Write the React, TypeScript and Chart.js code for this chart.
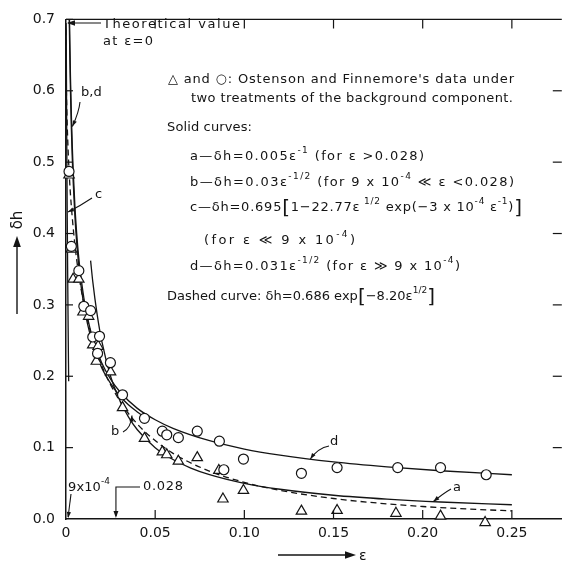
import React, { useEffect, useRef } from "react";
import { Chart, registerables } from "chart.js";

Chart.register(...registerables);

// ---- data ----
const circleEps = [0.0017, 0.003, 0.0072, 0.010, 0.0138, 0.015, 0.0188, 0.0177, 0.0249, 0.0317, 0.044, 0.054, 0.0565, 0.063, 0.0736, 0.086, 0.0885, 0.0995, 0.132, 0.152, 0.186, 0.210, 0.2356];
const circleDh = [0.487, 0.382, 0.348, 0.298, 0.292, 0.255, 0.256, 0.232, 0.219, 0.174, 0.141, 0.123, 0.118, 0.114, 0.123, 0.109, 0.069, 0.084, 0.064, 0.072, 0.072, 0.072, 0.062];

const triEps = [0.0017, 0.003, 0.004, 0.0072, 0.0095, 0.0127, 0.015, 0.018, 0.017, 0.025, 0.0317, 0.044, 0.054, 0.0565, 0.063, 0.0736, 0.0857, 0.088, 0.0995, 0.132, 0.152, 0.185, 0.210, 0.235];
const triDh = [0.482, 0.378, 0.336, 0.336, 0.290, 0.284, 0.244, 0.242, 0.221, 0.206, 0.156, 0.113, 0.094, 0.090, 0.081, 0.086, 0.068, 0.028, 0.040, 0.011, 0.012, 0.008, 0.004, -0.005];

// solid curve a
const curveAEps = [0.0138, 0.015, 0.0175, 0.02, 0.025, 0.03, 0.035, 0.04, 0.05, 0.06, 0.07, 0.08, 0.10, 0.12, 0.15, 0.18, 0.21, 0.25];
const curveADh = [0.362, 0.333, 0.286, 0.25, 0.2, 0.167, 0.143, 0.125, 0.1, 0.0833, 0.0714, 0.0625, 0.05, 0.0417, 0.0333, 0.0278, 0.0238, 0.02];

// solid curve b
const curveBEps = [0.00184, 0.002, 0.0025, 0.003, 0.0035, 0.004, 0.005, 0.006, 0.007, 0.008, 0.01, 0.012, 0.015, 0.02, 0.025, 0.03, 0.035, 0.04, 0.045];
const curveBDh = [0.699, 0.671, 0.600, 0.548, 0.507, 0.474, 0.424, 0.387, 0.359, 0.335, 0.300, 0.274, 0.245, 0.212, 0.190, 0.173, 0.160, 0.150, 0.141];

// solid curve c
const curveCEps = [0, 0.0001, 0.0002, 0.0003, 0.0005, 0.0007, 0.0009, 0.0012, 0.0015];
const curveCDh = [0.695, 0.687, 0.645, 0.594, 0.501, 0.422, 0.355, 0.268, 0.193];

// solid curve d
const curveDEps = [0.00196, 0.0022, 0.0025, 0.003, 0.0035, 0.004, 0.005, 0.006, 0.007, 0.008, 0.01, 0.012, 0.015, 0.02, 0.025, 0.03, 0.04, 0.05, 0.06, 0.08, 0.10, 0.12, 0.15, 0.18, 0.21, 0.25];
const curveDDh = [0.700, 0.661, 0.620, 0.566, 0.524, 0.490, 0.438, 0.400, 0.370, 0.347, 0.310, 0.283, 0.253, 0.219, 0.196, 0.179, 0.155, 0.139, 0.127, 0.110, 0.098, 0.0895, 0.080, 0.0731, 0.0676, 0.062];

// dashed curve
const dashedEps = [0, 0.0001, 0.0005, 0.001, 0.002, 0.003, 0.005, 0.0075, 0.01, 0.015, 0.02, 0.03, 0.04, 0.05, 0.06, 0.08, 0.10, 0.12, 0.15, 0.18, 0.20, 0.225, 0.25];
const dashedDh = [0.686, 0.632, 0.571, 0.529, 0.475, 0.438, 0.384, 0.337, 0.302, 0.251, 0.215, 0.166, 0.133, 0.110, 0.092, 0.0675, 0.0513, 0.0401, 0.0287, 0.0212, 0.0175, 0.0140, 0.0114];

const xTickLabels = ["0", "0.05", "0.10", "0.15", "0.20", "0.25"];
const yTickLabels = ["0.0", "0.1", "0.2", "0.3", "0.4", "0.5", "0.6", "0.7"];

type Seg = { t: string; k?: "sup" | "big" };

const noteLines: { segs: Seg[]; x: number; y: number; w: number }[] = [
  { segs: [{ t: "△ and ○: Ostenson and Finnemore's data under" }], x: 168, y: 80, w: 346 },
  { segs: [{ t: "two treatments of the background component." }], x: 191, y: 99, w: 322 },
  { segs: [{ t: "Solid curves:" }], x: 167, y: 128, w: 85 },
  { segs: [{ t: "a—δh=0.005ε" }, { t: "-1", k: "sup" }, { t: " (for ε >0.028)" }], x: 190, y: 157, w: 234 },
  { segs: [{ t: "b—δh=0.03ε" }, { t: "-1/2", k: "sup" }, { t: " (for 9 x 10" }, { t: "-4", k: "sup" }, { t: " ≪ ε <0.028)" }], x: 190, y: 183, w: 324 },
  { segs: [{ t: "c—δh=0.695" }, { t: "[", k: "big" }, { t: "1−22.77ε" }, { t: " 1/2", k: "sup" }, { t: " exp(−3 x 10" }, { t: "-4", k: "sup" }, { t: " ε" }, { t: "-1", k: "sup" }, { t: ")" }, { t: "]", k: "big" }], x: 190, y: 208, w: 332 },
  { segs: [{ t: "(for ε ≪ 9 x 10" }, { t: "-4", k: "sup" }, { t: ")" }], x: 204, y: 241, w: 151 },
  { segs: [{ t: "d—δh=0.031ε" }, { t: "-1/2", k: "sup" }, { t: " (for ε ≫ 9 x 10" }, { t: "-4", k: "sup" }, { t: ")" }], x: 190, y: 267, w: 270 },
  { segs: [{ t: "Dashed curve: δh=0.686 exp" }, { t: "[", k: "big" }, { t: "−8.20ε" }, { t: "1/2", k: "sup" }, { t: "]", k: "big" }], x: 167, y: 297, w: 268 },
];

const FONT = '"DejaVu Sans", sans-serif';
const INK = "#141414";

function toPts(xs: number[], ys: number[]) {
  return xs.map((x, i) => ({ x, y: ys[i] }));
}

function segFont(k?: string) {
  if (k === "sup") return `9px ${FONT}`;
  if (k === "big") return `20px ${FONT}`;
  return `13px ${FONT}`;
}

function drawRich(ctx: CanvasRenderingContext2D, segs: Seg[], x: number, y: number, target?: number) {
  const c: any = ctx;
  c.letterSpacing = "0px";
  let total = 0;
  let n = 0;
  const widths = segs.map((s) => {
    ctx.font = segFont(s.k);
    const w = ctx.measureText(s.t).width;
    total += w;
    n += s.t.length;
    return w;
  });
  const sp = target ? (target - total) / Math.max(1, n - 1) : 0;
  let cx = x;
  segs.forEach((s, i) => {
    ctx.font = segFont(s.k);
    c.letterSpacing = `${sp}px`;
    const dy = s.k === "sup" ? -6 : s.k === "big" ? 1 : 0;
    ctx.fillText(s.t, cx, y + dy);
    cx += widths[i] + sp * s.t.length;
  });
  c.letterSpacing = "0px";
}

function arrowHead(ctx: CanvasRenderingContext2D, x: number, y: number, ang: number, size = 6) {
  ctx.save();
  ctx.translate(x, y);
  ctx.rotate(ang);
  ctx.beginPath();
  ctx.moveTo(0, 0);
  ctx.lineTo(-size, -size * 0.35);
  ctx.lineTo(-size, size * 0.35);
  ctx.closePath();
  ctx.fill();
  ctx.restore();
}

const decorPlugin = {
  id: "decor",
  afterDraw(chart: any) {
    const ctx: CanvasRenderingContext2D = chart.ctx;
    const { left, right, top, bottom } = chart.chartArea;
    const xs = chart.scales.x;
    const ys = chart.scales.y;
    ctx.save();
    ctx.strokeStyle = INK;
    ctx.fillStyle = INK;
    ctx.lineWidth = 1.4;

    // top frame line
    ctx.beginPath();
    ctx.moveTo(left, top);
    ctx.lineTo(right, top);
    ctx.stroke();

    // inward ticks
    ctx.lineWidth = 1.2;
    xs.ticks.forEach((t: any) => {
      const px = xs.getPixelForValue(t.value);
      if (t.value === 0) return;
      ctx.beginPath();
      ctx.moveTo(px, bottom);
      ctx.lineTo(px, bottom - 9);
      ctx.moveTo(px, top);
      ctx.lineTo(px, top + 9);
      ctx.stroke();
    });
    ys.ticks.forEach((t: any) => {
      const py = ys.getPixelForValue(t.value);
      if (t.value === 0) return;
      ctx.beginPath();
      ctx.moveTo(left, py);
      ctx.lineTo(left + 7, py);
      ctx.stroke();
      if (t.value < 0.65) {
        ctx.beginPath();
        ctx.moveTo(right - 9, py);
        ctx.lineTo(right, py);
        ctx.stroke();
      }
    });

    // notes
    ctx.textBaseline = "middle";
    ctx.textAlign = "left";
    noteLines.forEach((l) => drawRich(ctx, l.segs, l.x, l.y, l.w));

    // Theoretical value annotation
    drawRich(ctx, [{ t: "Theoretical value" }], 103, 25, 137);
    drawRich(ctx, [{ t: "at ε=0" }], 103, 42, 50);
    const p0x = xs.getPixelForValue(0);
    const p0y = ys.getPixelForValue(0.695);
    ctx.lineWidth = 1.1;
    ctx.beginPath();
    ctx.moveTo(101, 23);
    ctx.lineTo(p0x + 2, p0y);
    ctx.stroke();
    arrowHead(ctx, p0x + 1, p0y, Math.atan2(p0y - 23, p0x + 1 - 101), 8);

    // curve labels with leaders
    const leader = (tx: number, ty: number, cx1: number, cy1: number, ex: number, ey: number) => {
      ctx.beginPath();
      ctx.moveTo(tx, ty);
      ctx.quadraticCurveTo(cx1, cy1, ex, ey);
      ctx.stroke();
      arrowHead(ctx, ex, ey, Math.atan2(ey - cy1, ex - cx1), 6);
    };
    ctx.font = `13px ${FONT}`;
    ctx.fillText("b,d", 81, 93);
    leader(80, 102, 79, 112, xs.getPixelForValue(0.0033) + 0.5, ys.getPixelForValue(0.55));
    ctx.fillText("c", 95, 195);
    leader(92, 198, 80, 206, left + 2, ys.getPixelForValue(0.43));
    ctx.fillText("b", 111, 432);
    leader(123, 432, 131, 428, xs.getPixelForValue(0.037), ys.getPixelForValue(0.145));
    ctx.fillText("d", 330, 442);
    leader(329, 446, 318, 448, xs.getPixelForValue(0.137), ys.getPixelForValue(0.084));
    ctx.fillText("a", 453, 488);
    leader(451, 489, 444, 493, xs.getPixelForValue(0.206), ys.getPixelForValue(0.0245));

    // 9x10^-4 and 0.028 markers
    drawRich(ctx, [{ t: "9x10" }, { t: "-4", k: "sup" }], 68, 488, 42);
    ctx.beginPath();
    ctx.moveTo(71, 494);
    ctx.lineTo(xs.getPixelForValue(0.0009) + 0.5, bottom - 2);
    ctx.stroke();
    arrowHead(ctx, xs.getPixelForValue(0.0009) + 0.5, bottom - 1, Math.atan2(bottom - 494, xs.getPixelForValue(0.0009) - 71), 6);
    const p028 = xs.getPixelForValue(0.028);
    drawRich(ctx, [{ t: "0.028" }], 143, 487, 40);
    ctx.beginPath();
    ctx.moveTo(140, 487);
    ctx.lineTo(p028, 487);
    ctx.lineTo(p028, bottom - 3);
    ctx.stroke();
    arrowHead(ctx, p028, bottom - 1, Math.PI / 2, 7);

    // axis titles
    ctx.lineWidth = 1.4;
    ctx.beginPath();
    ctx.moveTo(278, 555);
    ctx.lineTo(350, 555);
    ctx.stroke();
    arrowHead(ctx, 356, 555, 0, 11);
    ctx.font = `14px ${FONT}`;
    ctx.fillText("ε", 359, 556);

    ctx.beginPath();
    ctx.moveTo(17, 314);
    ctx.lineTo(17, 244);
    ctx.stroke();
    arrowHead(ctx, 17, 236, -Math.PI / 2, 11);
    ctx.save();
    ctx.translate(17, 220);
    ctx.rotate(-Math.PI / 2);
    ctx.textAlign = "center";
    ctx.font = `15px ${FONT}`;
    ctx.fillText("δh", 0, 1);
    ctx.restore();

    ctx.restore();
  },
};

export default function App() {
  const ref = useRef<HTMLCanvasElement | null>(null);
  useEffect(() => {
    document.body.style.margin = "0";
    const canvas = ref.current;
    if (!canvas) return;
    const lineDs = (label: string, xs: number[], ys: number[], dash: number[] = []) => ({
      type: "line" as const,
      label,
      data: toPts(xs, ys),
      borderColor: INK,
      borderWidth: 1.3,
      borderDash: dash,
      pointRadius: 0,
      fill: false,
      cubicInterpolationMode: "monotone" as const,
      order: 2,
      clip: false as any,
    });
    const chart = new Chart(canvas, {
      type: "scatter",
      data: {
        datasets: [
          lineDs("a", curveAEps, curveADh),
          lineDs("b", curveBEps, curveBDh),
          lineDs("c", curveCEps, curveCDh),
          lineDs("d", curveDEps, curveDDh),
          lineDs("dashed", dashedEps, dashedDh, [6, 4]),
          {
            type: "scatter" as const,
            label: "circles",
            data: toPts(circleEps, circleDh),
            pointStyle: "circle",
            pointRadius: 5,
            borderColor: INK,
            borderWidth: 1.2,
            backgroundColor: "#ffffff",
            order: 0,
            clip: false as any,
          },
          {
            type: "scatter" as const,
            label: "triangles",
            data: toPts(triEps, triDh),
            pointStyle: "triangle",
            pointRadius: 6,
            borderColor: INK,
            borderWidth: 1.2,
            backgroundColor: "#ffffff",
            order: 1,
            clip: false as any,
          },
        ] as any,
      },
      options: {
        responsive: false,
        animation: false,
        devicePixelRatio: 1,
        layout: { padding: { left: 0, right: 0, top: 10, bottom: 0 } },
        plugins: { legend: { display: false }, tooltip: { enabled: false } },
        scales: {
          x: {
            type: "linear",
            min: 0,
            max: 0.278,
            position: "bottom",
            afterFit: (s: any) => {
              s.height = 46;
            },
            grid: { display: false, drawTicks: false },
            border: { display: true, color: INK, width: 1.5 },
            ticks: {
              stepSize: 0.05,
              includeBounds: false,
              padding: 6,
              color: INK,
              font: { family: FONT, size: 14 },
              maxRotation: 0,
              autoSkip: false,
              callback: (v: any, i: number) => xTickLabels[i],
            },
          },
          y: {
            type: "linear",
            min: 0,
            max: 0.7,
            afterFit: (s: any) => {
              s.width = 66;
            },
            grid: { display: false, drawTicks: false },
            border: { display: true, color: INK, width: 1.5 },
            ticks: {
              stepSize: 0.1,
              padding: 11,
              color: INK,
              font: { family: FONT, size: 14 },
              autoSkip: false,
              callback: (v: any, i: number) => yTickLabels[i],
            },
          },
        },
      } as any,
      plugins: [decorPlugin],
    });
    return () => chart.destroy();
  }, []);
  return (
    <div style={{ position: "absolute", left: 0, top: 0, width: 569, height: 565, background: "#fff" }}>
      <canvas ref={ref} width={569} height={565} />
    </div>
  );
}
